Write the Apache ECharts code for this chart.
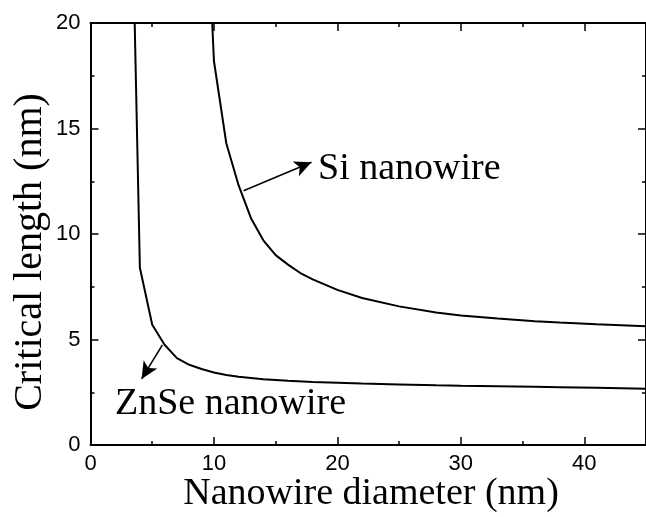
<!DOCTYPE html>
<html lang="en">
<head>
    <meta charset="UTF-8">
    <title>Critical length</title>
    <script src="https://cdn.jsdelivr.net/npm/echarts@6/dist/echarts.min.js"></script>
    <style>
        html, body { margin: 0; padding: 0; background: #fff; }
        #main { width: 646px; height: 517px; }
    </style>
</head>
<body>
    <div id="main"></div>
    <script>
        // values: diameter (nm) -> critical length (nm)
        const znseDiameter = [3, 4, 5, 6, 7, 8, 9, 10, 11, 12, 14, 16, 18, 20, 22, 25, 28, 30, 33, 36, 38, 41, 45];
        const znseLength = [36, 8.4, 5.7, 4.75, 4.12, 3.8, 3.6, 3.44, 3.32, 3.23, 3.12, 3.04, 2.99, 2.95, 2.91, 2.87, 2.83, 2.81, 2.79, 2.76, 2.74, 2.71, 2.67];

        const siDiameter = [9, 10, 11, 12, 13, 14, 15, 16, 17, 18, 19, 20, 22, 25, 28, 30, 33, 36, 38, 41, 45];
        const siLength = [31, 18.2, 14.3, 12.3, 10.75, 9.7, 9.0, 8.55, 8.15, 7.85, 7.6, 7.35, 6.97, 6.57, 6.28, 6.14, 6.0, 5.87, 5.8, 5.72, 5.63];

        // arrows: [from, to] in data coordinates
        const siArrow = [[12.4, 12.05], [17.9, 13.4]];
        const znseArrow = [[5.82, 4.74], [4.14, 3.13]];

        const xRange = [0, 45];
        const yRange = [0, 20];

        const chart = echarts.init(document.getElementById('main'));

        const serif = '"Liberation Serif", "Times New Roman", serif';
        const sans = '"Liberation Sans", Arial, sans-serif';

        function pairs(xs, ys) {
            return xs.map((x, i) => [x, ys[i]]);
        }

        function axisCommon(showLabels, margin, showMax) {
            return {
                axisLine: { show: true, onZero: false, lineStyle: { color: '#000', width: 2 } },
                axisTick: { show: true, inside: true, length: 8, lineStyle: { color: '#000', width: 1.5 } },
                minorTick: { show: true, splitNumber: 2, length: 4, lineStyle: { color: '#000', width: 1.5 } },
                splitLine: { show: false },
                axisLabel: {
                    show: showLabels,
                    color: '#000',
                    fontFamily: sans,
                    fontSize: 22,
                    margin: margin,
                    showMaxLabel: showMax
                }
            };
        }

        function arrowLine(a) {
            return {
                silent: true,
                symbol: ['none', 'arrow'],
                symbolSize: [12, 17],
                label: { show: false },
                lineStyle: { color: '#000', width: 1.5, type: 'solid' },
                emphasis: { disabled: true },
                data: [[{ coord: a[0] }, { coord: a[1] }]]
            };
        }

        const option = {
            animation: false,
            backgroundColor: '#fff',
            grid: { left: 90.5, top: 23, width: 560, height: 422 },
            xAxis: [
                // 45 is off the right edge of the picture, so its label is hidden
                Object.assign({ type: 'value', position: 'bottom', min: xRange[0], max: xRange[1], interval: 10 }, axisCommon(true, 8, false)),
                Object.assign({ type: 'value', position: 'top', min: xRange[0], max: xRange[1], interval: 10 }, axisCommon(false, 8, false))
            ],
            yAxis: [
                Object.assign({ type: 'value', position: 'left', min: yRange[0], max: yRange[1], interval: 5 }, axisCommon(true, 10, true)),
                Object.assign({ type: 'value', position: 'right', min: yRange[0], max: yRange[1], interval: 5 }, axisCommon(false, 10, true))
            ],
            series: [
                {
                    name: 'ZnSe nanowire',
                    type: 'line',
                    data: pairs(znseDiameter, znseLength),
                    showSymbol: false,
                    lineStyle: { color: '#000', width: 2 },
                    markLine: arrowLine(znseArrow)
                },
                {
                    name: 'Si nanowire',
                    type: 'line',
                    data: pairs(siDiameter, siLength),
                    showSymbol: false,
                    lineStyle: { color: '#000', width: 2 },
                    markLine: arrowLine(siArrow)
                }
            ],
            graphic: [
                {
                    type: 'text', x: 371, y: 494,
                    style: { text: 'Nanowire diameter (nm)', font: '38px ' + serif, fill: '#000', textAlign: 'center', textVerticalAlign: 'middle' }
                },
                {
                    type: 'text', x: 30, y: 252, rotation: Math.PI / 2,
                    style: { text: 'Critical length (nm)', font: '40px ' + serif, fill: '#000', textAlign: 'center', textVerticalAlign: 'middle' }
                },
                {
                    type: 'text', x: 318, y: 169,
                    style: { text: 'Si nanowire', font: '38px ' + serif, fill: '#000', textAlign: 'left', textVerticalAlign: 'middle' }
                },
                {
                    type: 'text', x: 115, y: 404,
                    style: { text: 'ZnSe nanowire', font: '38px ' + serif, fill: '#000', textAlign: 'left', textVerticalAlign: 'middle' }
                }
            ]
        };

        chart.setOption(option);
    </script>
</body>
</html>
